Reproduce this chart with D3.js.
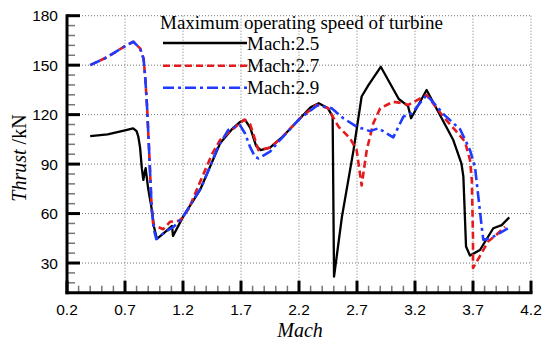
<!DOCTYPE html>
<html><head><meta charset="utf-8">
<script src="https://cdn.jsdelivr.net/npm/d3@7"></script>
<style>body{margin:0;background:#fff}svg{display:block}</style>
</head><body>
<svg id="c" width="550" height="347"></svg>
<script>
// ---- data ----
const xTicks = [0.2,0.7,1.2,1.7,2.2,2.7,3.2,3.7,4.2];
const yTicks = [30,60,90,120,150,180];
const seriesNames = ["Mach:2.5","Mach:2.7","Mach:2.9"];
const legendTitle = "Maximum operating speed of turbine";

const mach25X = [0.40,0.55,0.70,0.77,0.80,0.815,0.83,0.845,0.858,0.87,0.878,0.90,0.93,0.95,0.975,1.04,1.105,1.114,1.20,1.347,1.52,1.62,1.69,1.735,1.78,1.83,1.87,1.95,2.05,2.21,2.30,2.37,2.45,2.49,2.502,2.57,2.67,2.74,2.80,2.905,3.06,3.14,3.166,3.30,3.43,3.53,3.60,3.617,3.64,3.674,3.76,3.875,3.947,4.013];
const mach25Y = [107,108,110.5,111.7,110,106.6,100,87.5,80.4,85,87.5,75,63,52,44.6,48.5,52.5,46.4,58,74.3,102.6,111,115.5,116.8,112,101,98.5,100,106,117.8,124.5,126.9,123.8,118.8,21.7,58,98.5,131,138,149,129.5,125.2,117.8,134.9,117.8,104.6,90.5,82.4,40,34.5,37.9,51.1,53,57.7];

const mach27X = [0.40,0.55,0.70,0.772,0.83,0.86,0.875,0.89,0.91,0.93,0.944,1.03,1.088,1.174,1.25,1.34,1.45,1.52,1.62,1.73,1.78,1.85,1.95,2.05,2.21,2.35,2.45,2.54,2.64,2.697,2.74,2.784,2.84,2.90,3.01,3.10,3.142,3.30,3.444,3.545,3.631,3.674,3.69,3.70,3.70,3.75,3.83,3.90,3.976];
const mach27Y = [150,155,161.5,164.2,160.2,154,142,125,95,63,53,50.5,55,55.7,63,78,96,104.6,110.7,117,114,98.5,100,106,117.8,126,124,112.7,105.6,98.5,77,98.5,114.7,123.8,127.8,126.9,125.9,131.9,118.8,110.7,103.6,92.5,80,45,27,33,43,47,52];

const mach29X = [0.40,0.55,0.70,0.772,0.83,0.86,0.875,0.89,0.91,0.93,0.95,0.97,1.05,1.12,1.20,1.361,1.50,1.59,1.69,1.734,1.777,1.82,1.85,1.95,2.036,2.21,2.36,2.482,2.582,2.697,2.812,2.884,3.013,3.10,3.172,3.30,3.45,3.59,3.674,3.717,3.746,3.775,3.789,3.82,3.875,4.0];
const mach29Y = [150,155,161.5,164.2,160.2,154,142,125,95,63,50,44.5,49,52,58,76.3,100,110.7,113.7,108.7,100.6,94.5,93.5,97.5,104.6,117.8,125.7,123.8,117.8,112.7,110,111.7,106.2,118.8,120.8,131.9,120,111,98.5,88.4,70.2,52,44,44.5,46,51];

const seriesX = [mach25X, mach27X, mach29X];
const seriesY = [mach25Y, mach27Y, mach29Y];
const colors = ["#000000","#e41a1c","#1f3bff"];
const dashes = [null,"7,4","11,4,3,4"];

// ---- layout ----
const svg = d3.select("#c");
const L = 67, R = 531, T = 15.7, B = 292.7;
const x = d3.scaleLinear().domain([0.2,4.2]).range([L,R]);
const y = d3.scaleLinear().domain([12,180]).range([B,T]);

// grid
const g = svg.append("g");
g.selectAll(".gx").data(xTicks.slice(1)).join("line")
  .attr("x1",d=>x(d)).attr("x2",d=>x(d)).attr("y1",T).attr("y2",B)
  .attr("stroke","#777").attr("stroke-width",1).attr("stroke-dasharray","1,2");
g.selectAll(".gy").data(yTicks).join("line")
  .attr("x1",L).attr("x2",R).attr("y1",d=>y(d)).attr("y2",d=>y(d))
  .attr("stroke","#777").attr("stroke-width",1).attr("stroke-dasharray","1,2");

// minor ticks
const yMinor = d3.range(18,180,6).filter(v=>v%30!==0);
const xMinor = d3.range(3,42).map(v=>v/10).filter(v=>Math.abs((v-0.2)/0.5-Math.round((v-0.2)/0.5))>1e-6);
g.selectAll(".my").data(yMinor).join("line")
  .attr("x1",L).attr("x2",L+8).attr("y1",d=>y(d)).attr("y2",d=>y(d))
  .attr("stroke","#777").attr("stroke-width",1.5);
g.selectAll(".mx").data(xMinor).join("line")
  .attr("x1",d=>x(d)).attr("x2",d=>x(d)).attr("y1",B).attr("y2",B-7)
  .attr("stroke","#777").attr("stroke-width",1.5);

// major ticks
g.selectAll(".My").data(yTicks).join("line")
  .attr("x1",L).attr("x2",L+13).attr("y1",d=>y(d)).attr("y2",d=>y(d))
  .attr("stroke","#000").attr("stroke-width",3);
g.selectAll(".Mx").data(xTicks).join("line")
  .attr("x1",d=>x(d)).attr("x2",d=>x(d)).attr("y1",B).attr("y2",B-12)
  .attr("stroke","#000").attr("stroke-width",3);

// axis lines
g.append("line").attr("x1",L).attr("x2",L).attr("y1",T-1.5).attr("y2",B+1.5).attr("stroke","#000").attr("stroke-width",3);
g.append("line").attr("x1",L-1.5).attr("x2",R+1.5).attr("y1",B).attr("y2",B).attr("stroke","#000").attr("stroke-width",3);

// tick labels
g.selectAll(".ty").data(yTicks).join("text")
  .attr("x",L-9).attr("y",d=>y(d)).attr("dy","0.36em").attr("text-anchor","end")
  .attr("font-family","Liberation Sans, Arial, sans-serif").attr("font-size",15.5).text(d=>d);
g.selectAll(".tx").data(xTicks).join("text")
  .attr("x",d=>x(d)).attr("y",314.5).attr("text-anchor","middle")
  .attr("font-family","Liberation Sans, Arial, sans-serif").attr("font-size",15.5).text(d=>d.toFixed(1));

// axis titles
svg.append("text").attr("x",300).attr("y",337).attr("text-anchor","middle")
  .attr("font-family","Liberation Serif, Times New Roman, serif").attr("font-size",20)
  .attr("font-style","italic").text("Mach");
const yl = svg.append("text").attr("transform","translate(26,158) rotate(-90)").attr("text-anchor","middle")
  .attr("font-family","Liberation Serif, Times New Roman, serif").attr("font-size",20);
yl.append("tspan").attr("font-style","italic").text("Thrust");
yl.append("tspan").text(" /kN");

// series
const line = d3.line().x(d=>x(d[0])).y(d=>y(d[1]));
seriesX.forEach((xs,i)=>{
  const pts = xs.map((v,j)=>[v,seriesY[i][j]]);
  svg.append("path").datum(pts).attr("d",line).attr("fill","none")
    .attr("stroke",colors[i]).attr("stroke-width",i===0?2.3:2.6)
    .attr("stroke-dasharray",dashes[i]).attr("stroke-linejoin","round");
});

// legend
const lg = svg.append("g").attr("font-family","Liberation Serif, Times New Roman, serif").attr("font-size",19);
lg.append("text").attr("x",160).attr("y",28.5).text(legendTitle);
const ly = [43,65.7,87.7];
seriesNames.forEach((n,i)=>{
  lg.append("line").attr("x1",163).attr("x2",247).attr("y1",ly[i]).attr("y2",ly[i])
    .attr("stroke",colors[i]).attr("stroke-width",i===0?2.3:2.6).attr("stroke-dasharray",dashes[i]);
  lg.append("text").attr("x",247).attr("y",ly[i]+6.5).text(n);
});
</script>
</body></html>
